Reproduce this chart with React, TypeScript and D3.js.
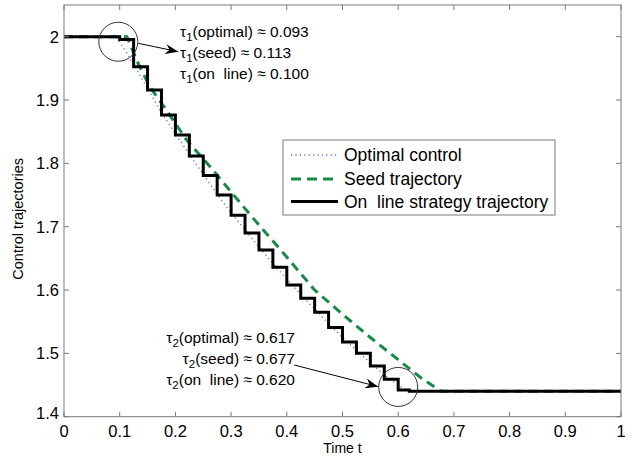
import React from 'react';
import * as d3 from 'd3';

// on-line strategy: piecewise constant control (step after each time)
const onlineT = [0, 0.1, 0.125, 0.15, 0.175, 0.2, 0.225, 0.25, 0.275, 0.3, 0.325, 0.35, 0.375, 0.4, 0.425, 0.45, 0.475, 0.5, 0.525, 0.55, 0.575, 0.6, 0.62, 1];
const onlineU = [2.0, 1.9955, 1.9526, 1.9158, 1.8763, 1.8447, 1.8115, 1.781, 1.750, 1.718, 1.690, 1.663, 1.636, 1.608, 1.587, 1.565, 1.541, 1.518, 1.500, 1.480, 1.459, 1.442, 1.44, 1.44];

// optimal control
const optimalT = [0, 0.093, 0.113, 0.125, 0.15, 0.175, 0.2, 0.225, 0.25, 0.275, 0.3, 0.325, 0.35, 0.375, 0.4, 0.425, 0.45, 0.475, 0.5, 0.525, 0.55, 0.575, 0.6, 0.617, 1];
const optimalU = [2.0, 2.0, 1.974, 1.956, 1.918, 1.880, 1.847, 1.814, 1.783, 1.751, 1.722, 1.695, 1.668, 1.642, 1.617, 1.593, 1.570, 1.547, 1.525, 1.505, 1.485, 1.466, 1.450, 1.44, 1.44];

// seed trajectory
const seedT = [0, 0.113, 0.133, 0.154, 0.184, 0.22, 0.262, 0.334, 0.4, 0.45, 0.505, 0.55, 0.6, 0.64, 0.677, 1];
const seedU = [2.0, 2.0, 1.958, 1.921, 1.884, 1.837, 1.795, 1.719, 1.652, 1.600, 1.558, 1.525, 1.490, 1.462, 1.44, 1.44];

const xTicks = [0, 0.1, 0.2, 0.3, 0.4, 0.5, 0.6, 0.7, 0.8, 0.9, 1];
const xTickLabels = ['0', '0.1', '0.2', '0.3', '0.4', '0.5', '0.6', '0.7', '0.8', '0.9', '1'];
const yTicks = [1.4, 1.5, 1.6, 1.7, 1.8, 1.9, 2];
const yTickLabels = ['1.4', '1.5', '1.6', '1.7', '1.8', '1.9', '2'];

const legendLabels = ['Optimal control', 'Seed trajectory', 'On  line strategy trajectory'];

const tau1Labels = ['(optimal) \u2248 0.093', '(seed) \u2248 0.113', '(on  line) \u2248 0.100'];
const tau2Labels = ['(optimal) \u2248 0.617', '(seed) \u2248 0.677', '(on  line) \u2248 0.620'];

const W = 631;
const H = 461;
const margin = { top: 5, right: 10, bottom: 44.3, left: 64 };
const FONT = '"Liberation Sans", Arial, Helvetica, sans-serif';

const GREEN = '#178a46';
const BLUE = '#6e6ed2';
const AXIS = '#7a7a7a';

type Pt = [number, number];
const zip = (a: number[], b: number[]): Pt[] => a.map((t, i) => [t, b[i]]);

export default function App() {
  const x = d3.scaleLinear().domain([0, 1]).range([margin.left, W - margin.right]);
  const y = d3.scaleLinear().domain([1.4, 2.05]).range([H - margin.bottom, margin.top]);

  const line = d3.line<Pt>().x(d => x(d[0])).y(d => y(d[1]));
  const stepLine = d3.line<Pt>().x(d => x(d[0])).y(d => y(d[1])).curve(d3.curveStepAfter);

  const optimalPath = line(zip(optimalT, optimalU)) || '';
  const seedPath = line(zip(seedT, seedU)) || '';
  const onlinePath = stepLine(zip(onlineT, onlineU)) || '';

  const x0 = x(0), x1 = x(1), y0 = y(1.4), y1 = y(2.05);
  const tickLen = 5;

  // annotation anchors in data units
  const circles: Pt[] = [[0.0975, 1.992], [0.6, 1.447]];
  const arrows: [Pt, Pt][] = [
    [[0.1334, 1.9895], [0.2052, 1.9763]],
    [[0.4135, 1.4816], [0.5643, 1.4474]],
  ];
  const tau1Pos: Pt = [0.2083, 2.0];
  const tau2Pos: Pt = [0.4147, 1.516];

  const arrowHead = (from: Pt, to: Pt) => {
    const fx = x(from[0]), fy = y(from[1]), tx = x(to[0]), ty = y(to[1]);
    const a = Math.atan2(ty - fy, tx - fx);
    const L = 13, Wd = 5, back = 9;
    const p = (dx: number, dy: number) =>
      `${tx + dx * Math.cos(a) - dy * Math.sin(a)},${ty + dx * Math.sin(a) + dy * Math.cos(a)}`;
    return `M${p(0, 0)} L${p(-L, -Wd)} L${p(-back, 0)} L${p(-L, Wd)} Z`;
  };

  const tauText = (sub: string, labels: string[], pos: Pt, anchor: 'start' | 'end') =>
    labels.map((lab, i) => (
      <text
        key={lab}
        x={x(pos[0])}
        y={y(pos[1]) + i * 21}
        textAnchor={anchor}
        fontSize={15.5}
        style={{ whiteSpace: 'pre' }}
      >
        <tspan>{'\u03c4'}</tspan>
        <tspan dy={4} fontSize={11.5}>{sub}</tspan>
        <tspan dy={-4}>{lab}</tspan>
      </text>
    ));

  const legendX = 283, legendY = 140, legendW = 272, legendH = 75;
  const rowY = [155, 179, 201.5];

  return (
    <div style={{ position: 'fixed', left: 0, top: 0 }}>
      <svg width={W} height={H} fontFamily={FONT} style={{ display: 'block', background: '#fff' }}>
        <rect x={0} y={0} width={W} height={H} fill="#fff" />

        {/* curves */}
        <path d={optimalPath} fill="none" stroke={BLUE} strokeWidth={1.4} strokeDasharray="1.2 3.2" />
        <path d={seedPath} fill="none" stroke={GREEN} strokeWidth={3} strokeDasharray="9 6" />
        <path d={onlinePath} fill="none" stroke="#000" strokeWidth={3} />

        {/* annotations */}
        {circles.map((c, i) => (
          <circle key={i} cx={x(c[0])} cy={y(c[1])} r={19.5} fill="none" stroke="#333" strokeWidth={1} />
        ))}
        {arrows.map(([f, t], i) => (
          <g key={i}>
            <line x1={x(f[0])} y1={y(f[1])} x2={x(t[0])} y2={y(t[1])} stroke="#000" strokeWidth={1} />
            <path d={arrowHead(f, t)} fill="#000" />
          </g>
        ))}
        {tauText('1', tau1Labels, tau1Pos, 'start')}
        {tauText('2', tau2Labels, tau2Pos, 'end')}

        {/* frame and ticks */}
        <rect x={x0} y={y1} width={x1 - x0} height={y0 - y1} fill="none" stroke={AXIS} strokeWidth={1} />
        {xTicks.map((t, i) => (
          <g key={'x' + i}>
            <line x1={x(t)} x2={x(t)} y1={y0} y2={y0 - tickLen} stroke={AXIS} />
            <line x1={x(t)} x2={x(t)} y1={y1} y2={y1 + tickLen} stroke={AXIS} />
            <text x={x(t)} y={y0 + 20.5} textAnchor="middle" fontSize={16.5}>{xTickLabels[i]}</text>
          </g>
        ))}
        {yTicks.map((v, i) => (
          <g key={'y' + i}>
            <line x1={x0} x2={x0 + tickLen} y1={y(v)} y2={y(v)} stroke={AXIS} />
            <line x1={x1} x2={x1 - tickLen} y1={y(v)} y2={y(v)} stroke={AXIS} />
            <text x={x0 - 5} y={y(v) + (i === 0 ? 2 : 6)} textAnchor="end" fontSize={16.5}>{yTickLabels[i]}</text>
          </g>
        ))}

        <text x={(x0 + x1) / 2} y={453} textAnchor="middle" fontSize={14}>Time t</text>
        <text
          transform={`translate(23,${(y0 + y1) / 2 + 8}) rotate(-90)`}
          textAnchor="middle"
          fontSize={14.5}
        >
          Control trajectories
        </text>

        {/* legend */}
        <rect x={legendX} y={legendY} width={legendW} height={legendH} fill="#fff" stroke={AXIS} strokeWidth={1} />
        <line x1={291} x2={337} y1={rowY[0]} y2={rowY[0]} stroke={BLUE} strokeWidth={1.4} strokeDasharray="1.2 3.2" />
        <line x1={291} x2={337} y1={rowY[1]} y2={rowY[1]} stroke={GREEN} strokeWidth={3} strokeDasharray="10 6" />
        <line x1={291} x2={338} y1={rowY[2]} y2={rowY[2]} stroke="#000" strokeWidth={3} />
        {legendLabels.map((lab, i) => (
          <text key={lab} x={344} y={rowY[i] + 6} fontSize={17.5} style={{ whiteSpace: 'pre' }}>{lab}</text>
        ))}
      </svg>
    </div>
  );
}
